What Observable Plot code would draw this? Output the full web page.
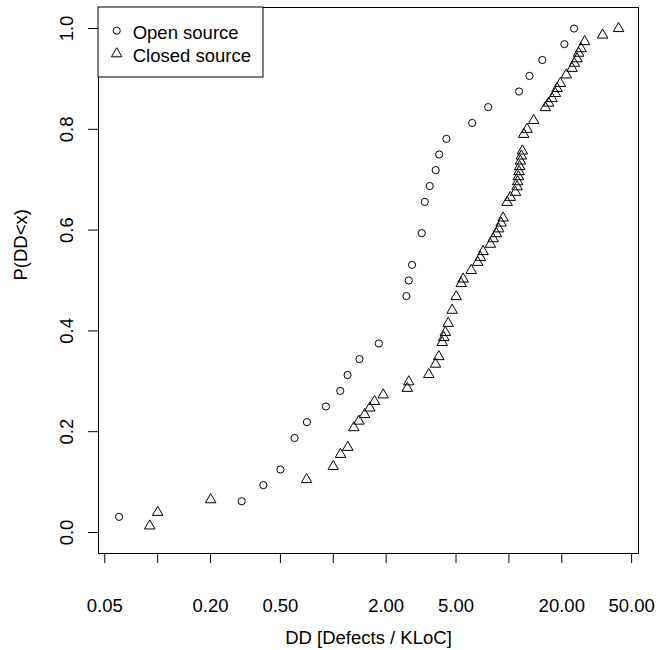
<!DOCTYPE html>
<html>
<head>
<meta charset="utf-8">
<script src="https://cdn.jsdelivr.net/npm/d3@7"></script>
<script src="https://cdn.jsdelivr.net/npm/@observablehq/plot@0.6"></script>
<style>
  html, body { margin: 0; padding: 0; background: #fff; }
  svg { display: block; }
</style>
</head>
<body>
<div id="chart"></div>
<script>
// Open source: defect density (x) and empirical P(DD<x) (y)
const openX = [0.0603, 0.301, 0.40, 0.50, 0.602, 0.708, 0.908, 1.096, 1.206, 1.41, 1.817,
  2.61, 2.69, 2.81, 3.19, 3.32, 3.54, 3.83, 4.01, 4.41, 6.18, 7.62, 11.43, 13.1, 15.5, 20.7, 23.5];
const openY = [0.031, 0.062, 0.094, 0.125, 0.1875, 0.219, 0.25, 0.281, 0.3125, 0.344, 0.375,
  0.469, 0.5, 0.531, 0.594, 0.656, 0.6875, 0.719, 0.75, 0.781, 0.8125, 0.844, 0.875, 0.906, 0.9375, 0.969, 1.0];

// Closed source
const closedX = [0.0902, 0.1001, 0.2005, 0.705, 1.0, 1.10, 1.21, 1.31, 1.40, 1.51, 1.615, 1.718, 1.925,
  2.64, 2.69, 3.50, 3.82, 3.99, 4.17, 4.26, 4.35, 4.51, 4.75, 5.01, 5.35, 5.49, 6.10, 6.65, 6.88, 7.13,
  7.85, 8.13, 8.49, 8.75, 9.03, 9.27, 9.77, 10.2, 10.9, 11.13, 11.22, 11.33, 11.43, 11.52, 11.63, 11.78,
  11.94, 12.14, 12.69, 13.84, 16.13, 16.84, 17.61, 18.39, 18.80, 19.63, 21.24, 22.88, 23.59, 24.43,
  24.95, 25.75, 26.99, 34.17, 42.13];
const closedY = [0.013, 0.040, 0.065, 0.105, 0.131, 0.155, 0.169, 0.208, 0.221, 0.234, 0.247, 0.260, 0.273,
  0.286, 0.299, 0.3135, 0.334, 0.349, 0.377, 0.387, 0.397, 0.415, 0.441, 0.468, 0.494, 0.503, 0.52, 0.536,
  0.546, 0.5575, 0.572, 0.583, 0.593, 0.6025, 0.614, 0.624, 0.655, 0.665, 0.675, 0.686, 0.696, 0.706,
  0.716, 0.726, 0.737, 0.747, 0.757, 0.790, 0.800, 0.8175, 0.843, 0.852, 0.861, 0.871, 0.881, 0.891,
  0.908, 0.921, 0.931, 0.940, 0.951, 0.960, 0.974, 0.987, 1.0];

const xTicks = [0.05, 0.1, 0.2, 0.5, 1, 2, 5, 10, 20, 50];
const xTickLabels = ["0.05", "", "0.20", "0.50", "", "2.00", "5.00", "", "20.00", "50.00"];
const yTicks = [0, 0.2, 0.4, 0.6, 0.8, 1.0];
const yTickLabels = ["0.0", "0.2", "0.4", "0.6", "0.8", "1.0"];

const seriesNames = ["Open source", "Closed source"];
const xTitle = "DD [Defects / KLoC]";
const yTitle = "P(DD<x)";

const openData = openX.map((x, i) => ({x, y: openY[i]}));
const closedData = closedX.map((x, i) => ({x, y: closedY[i]}));
const xTickData = xTicks.map((t, i) => ({t, label: xTickLabels[i]})).filter(d => d.label !== "");
const yTickData = yTicks.map((t, i) => ({t, label: yTickLabels[i]}));

const font = "'Liberation Sans', Arial, sans-serif";
const fs = 18.5;
const rCircle = 3.6, rTri = 3.9;

const chart = Plot.plot({
  width: 656,
  height: 650,
  marginLeft: 98,
  marginRight: 18,
  marginTop: 7,
  marginBottom: 97,
  style: {fontFamily: font, fontSize: fs + "px", color: "#000", background: "#fff", overflow: "visible"},
  x: {type: "log", domain: [0.04605, 54.7]},
  y: {domain: [-0.0417, 1.0417]},
  marks: [
    Plot.axisX(xTicks, {tickSize: 10, tickFormat: () => "", label: null}),
    Plot.axisY(yTicks, {tickSize: 10, tickFormat: () => "", label: null}),
    Plot.text(xTickData, {x: "t", text: "label", frameAnchor: "bottom", dy: 53,
      textAnchor: "middle", lineAnchor: "middle", fontSize: fs, fill: "#000"}),
    Plot.text(yTickData, {y: "t", text: "label", frameAnchor: "left", dx: -31, rotate: -90,
      textAnchor: "middle", lineAnchor: "middle", fontSize: fs, fill: "#000"}),
    Plot.text([xTitle], {frameAnchor: "bottom", dy: 85, text: d => d, lineAnchor: "middle", fontSize: fs, fill: "#000"}),
    Plot.text([yTitle], {frameAnchor: "left", dx: -77, text: d => d, rotate: -90, lineAnchor: "middle", fontSize: fs, fill: "#000"}),
    Plot.frame({stroke: "#000", strokeWidth: 1}),
    Plot.dot(openData, {x: "x", y: "y", symbol: "circle", r: rCircle, stroke: "#000", strokeWidth: 1, fill: "none"}),
    Plot.dot(closedData, {x: "x", y: "y", symbol: "triangle", r: rTri, stroke: "#000", strokeWidth: 1, fill: "none"})
  ]
});

document.getElementById("chart").appendChild(chart);

// Legend box (R-style, top-left inside plot)
const svg = d3.select(chart);
const lg = svg.append("g").attr("font-family", font).attr("font-size", fs).attr("text-anchor", "start");
lg.append("rect").attr("x", 98).attr("y", 7).attr("width", 165).attr("height", 70)
  .attr("fill", "#fff").attr("stroke", "#000").attr("stroke-width", 1);
lg.append("circle").attr("cx", 116.7).attr("cy", 30.7).attr("r", rCircle)
  .attr("fill", "none").attr("stroke", "#000");
lg.append("path").attr("transform", "translate(116.7,53.8)")
  .attr("d", d3.symbol(d3.symbolTriangle, Math.PI * rTri * rTri)())
  .attr("fill", "none").attr("stroke", "#000");
lg.selectAll("text.lg").data(seriesNames).join("text")
  .attr("x", 132.7).attr("y", (d, i) => 32.5 + i * 22.6).attr("dy", "0.35em")
  .attr("text-anchor", "start").attr("fill", "#000").text(d => d);
</script>
</body>
</html>
